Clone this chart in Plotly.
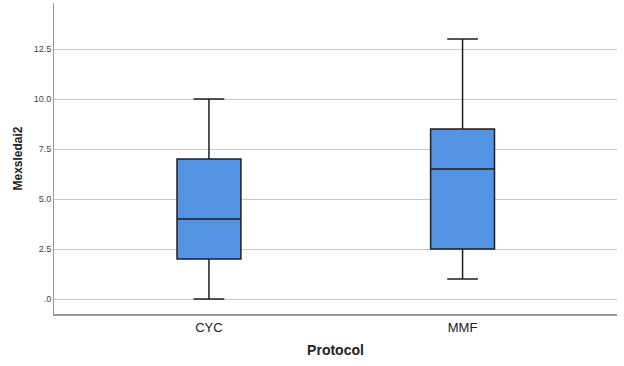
import plotly.graph_objects as go

categories = ["CYC", "MMF"]
lower_fence = [0, 1]
q1 = [2, 2.5]
median = [4, 6.5]
q3 = [7, 8.5]
upper_fence = [10, 13]
y_tick_vals = [0, 2.5, 5, 7.5, 10, 12.5]
y_tick_text = [".0", "2.5", "5.0", "7.5", "10.0", "12.5"]

fig = go.Figure()
fig.add_trace(go.Box(
    x=categories,
    q1=q1, median=median, q3=q3,
    lowerfence=lower_fence, upperfence=upper_fence,
    fillcolor="#5293e3",
    line=dict(color="#1f1f1f", width=1.5),
    width=0.252,
    whiskerwidth=0.48,
    boxpoints=False,
    showlegend=False,
    hoverinfo="skip",
))

fig.update_layout(
    width=624, height=366,
    margin=dict(l=54, r=7, t=3, b=52),
    plot_bgcolor="white", paper_bgcolor="white",
    font=dict(family="Liberation Sans, Arial, sans-serif", color="#222"),
    xaxis=dict(
        range=[-0.611, 1.609],
        showgrid=False,
        showline=True, linecolor="#9a9a9a", linewidth=2,
        ticks="", tickfont=dict(size=13, color="#222"),
        title=dict(text="<b>Protocol</b>", font=dict(size=14, color="#222"), standoff=12),
        zeroline=False,
    ),
    yaxis=dict(
        range=[-0.75, 14.8],
        tickvals=y_tick_vals, ticktext=y_tick_text,
        showgrid=True, gridcolor="#c8c8c8", gridwidth=1,
        showline=True, linecolor="#9a9a9a", linewidth=1,
        ticks="", tickfont=dict(size=9, color="#444"),
        title=dict(text="<b>Mexsledai2</b>", font=dict(size=12, color="#222"), standoff=8),
        zeroline=False,
    ),
)

fig.write_html(
    "out.html",
    config={"displayModeBar": False, "staticPlot": True},
    post_script="document.body.style.margin='0';document.body.style.overflow='hidden';",
)
